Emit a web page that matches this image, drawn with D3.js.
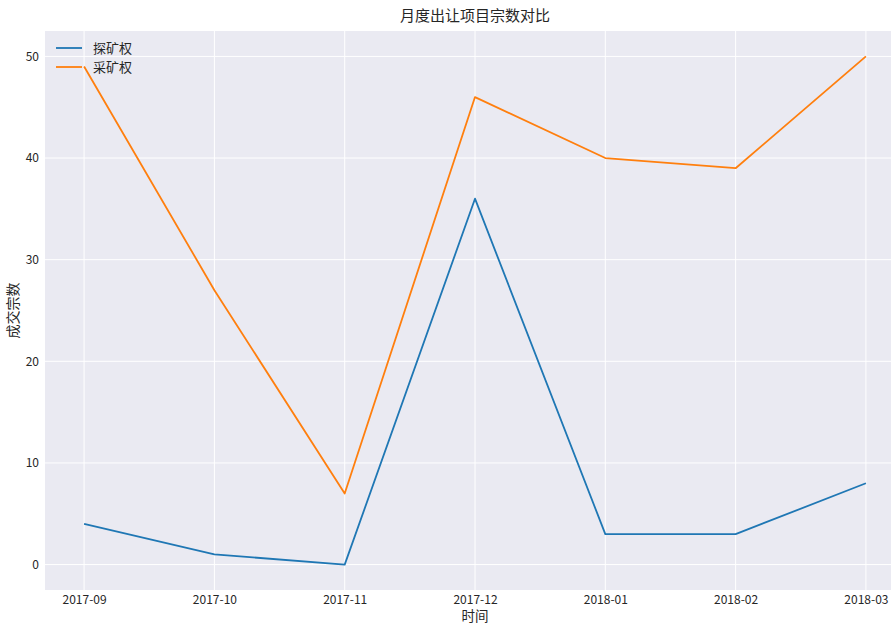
<!DOCTYPE html>
<html>
<head>
<meta charset="utf-8">
<script src="https://cdn.jsdelivr.net/npm/d3@7"></script>
<style>
  body { margin: 0; background: #fff; overflow: hidden; }
  text { font-family: "Noto Sans CJK SC", "Noto Sans", sans-serif; }
</style>
</head>
<body>
<div id="chart"></div>
<script>
// Monthly count of transferred mining rights, two series
let months = ["2017-09", "2017-10", "2017-11", "2017-12", "2018-01", "2018-02", "2018-03"];
let explore = [4, 1, 0, 36, 3, 3, 8];     // 探矿权
let mining = [49, 27, 7, 46, 40, 39, 50];  // 采矿权
let yTicks = [0, 10, 20, 30, 40, 50];

let series = [
    {name: "探矿权", values: explore, color: "#1f77b4"},
    {name: "采矿权", values: mining, color: "#ff7f0e"}
];

// Chart size (the axes run a bit past the window on the right, like the source)
let margin = {top: 31, right: 0, bottom: 34, left: 45},
    width = 905 - margin.left,
    height = 590 - margin.top;

let svg = d3.select("#chart")
    .append("svg")
    .attr("width", 891)
    .attr("height", 624);

let g = svg.append("g")
    .attr("transform", `translate(${margin.left}, ${margin.top})`);

// matplotlib-like 5% padding on each side
let xi = d3.scaleLinear()
    .domain([-0.3, months.length - 1 + 0.3])
    .range([0, width]);

let y = d3.scaleLinear()
    .domain([-2.5, 52.5])
    .range([height, 0]);

// Background
g.append("rect")
    .attr("width", width)
    .attr("height", height)
    .attr("fill", "#eaeaf2");

// Grid lines
g.append("g")
    .selectAll("line")
    .data(months)
    .join("line")
    .attr("x1", (d, i) => xi(i))
    .attr("x2", (d, i) => xi(i))
    .attr("y1", 0)
    .attr("y2", height)
    .attr("stroke", "#fff")
    .attr("stroke-width", 1);

g.append("g")
    .selectAll("line")
    .data(yTicks)
    .join("line")
    .attr("x1", 0)
    .attr("x2", width)
    .attr("y1", d => y(d))
    .attr("y2", d => y(d))
    .attr("stroke", "#fff")
    .attr("stroke-width", 1);

// x axis
let xaxis = g.append("g")
    .attr("transform", `translate(0, ${height})`)
    .call(d3.axisBottom(xi)
        .tickValues(d3.range(months.length))
        .tickFormat(i => months[i])
        .tickSize(0)
        .tickPadding(5));
xaxis.select(".domain").remove();
xaxis.selectAll("text")
    .attr("fill", "#262626")
    .style("font-size", "12px");

// y axis
let yaxis = g.append("g")
    .call(d3.axisLeft(y)
        .tickValues(yTicks)
        .tickSize(0)
        .tickPadding(6));
yaxis.select(".domain").remove();
yaxis.selectAll("text")
    .attr("fill", "#262626")
    .style("font-size", "12px");

// Lines
let line = d3.line()
    .x((d, i) => xi(i))
    .y(d => y(d));

g.selectAll(".series")
    .data(series)
    .join("path")
    .attr("class", "series")
    .attr("fill", "none")
    .attr("stroke", d => d.color)
    .attr("stroke-width", 1.8)
    .attr("stroke-linejoin", "round")
    .attr("d", d => line(d.values));

// Legend
let legend = g.append("g")
    .attr("transform", "translate(11, 17)");

legend.selectAll("line")
    .data(series)
    .join("line")
    .attr("x1", 0)
    .attr("x2", 26)
    .attr("y1", (d, i) => i * 19)
    .attr("y2", (d, i) => i * 19)
    .attr("stroke", d => d.color)
    .attr("stroke-width", 1.8);

legend.selectAll("text")
    .data(series)
    .join("text")
    .attr("x", 37)
    .attr("y", (d, i) => i * 19)
    .attr("dy", "0.35em")
    .attr("fill", "#262626")
    .style("font-size", "13px")
    .text(d => d.name);

// Title and axis labels
g.append("text")
    .attr("x", width / 2)
    .attr("y", -10)
    .attr("text-anchor", "middle")
    .attr("fill", "#262626")
    .style("font-size", "15px")
    .text("月度出让项目宗数对比");

g.append("text")
    .attr("x", width / 2)
    .attr("y", height + 31)
    .attr("text-anchor", "middle")
    .attr("fill", "#262626")
    .style("font-size", "13.5px")
    .text("时间");

g.append("text")
    .attr("transform", "rotate(-90)")
    .attr("x", -height / 2)
    .attr("y", -27)
    .attr("text-anchor", "middle")
    .attr("fill", "#262626")
    .style("font-size", "14px")
    .text("成交宗数");
</script>
</body>
</html>
